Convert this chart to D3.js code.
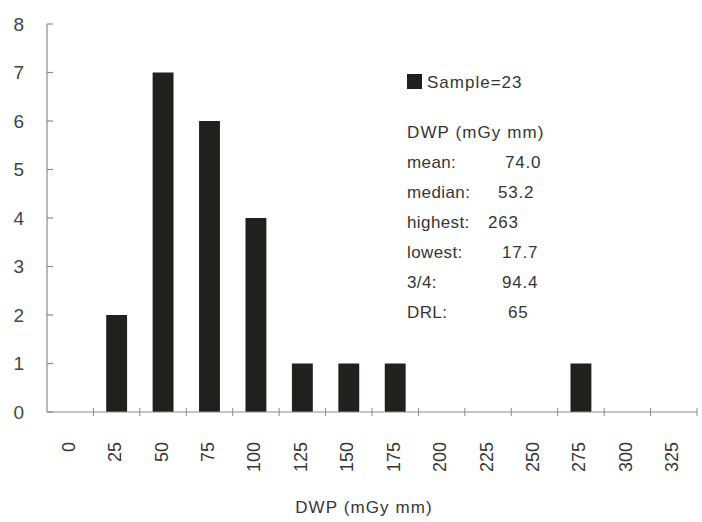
<!DOCTYPE html>
<html>
<head>
<meta charset="utf-8">
<script src="https://cdn.jsdelivr.net/npm/d3@7"></script>
<style>
  html, body { margin: 0; padding: 0; background: #fff; }
  svg { display: block; }
  text { font-family: "Liberation Sans", Arial, sans-serif; fill: #363636; }
  .narrow { font-family: "Liberation Sans Narrow", "Arial Narrow", "Liberation Sans", sans-serif; }
</style>
</head>
<body>
<svg id="chart" width="702" height="522"></svg>
<script>
// DWP histogram bins (mGy mm) and number of samples in each bin
const bins = ["0", "25", "50", "75", "100", "125", "150", "175", "200", "225", "250", "275", "300", "325"];
const counts = [0, 2, 7, 6, 4, 1, 1, 1, 0, 0, 0, 1, 0, 0];
const yTicks = [0, 1, 2, 3, 4, 5, 6, 7, 8];

const legendLabel = "Sample=23";
const statsTitle = "DWP (mGy mm)";
const statNames = ["mean:", "median:", "highest:", "lowest:", "3/4:", "DRL:"];
const statValues = ["74.0", "53.2", "263", "17.7", "94.4", "65"];
const statValueX = [505, 498, 488, 502, 502, 508];
const xTitle = "DWP (mGy mm)";

const svg = d3.select("#chart");
const plotLeft = 47, plotRight = 697, plotTop = 24, plotBottom = 412;

const x = d3.scaleBand().domain(bins).range([plotLeft, plotRight]).paddingInner(0.55).paddingOuter(0.275);
const xb = d3.scaleBand().domain(bins).range([plotLeft, plotRight]);
const y = d3.scaleLinear().domain([0, 8]).range([plotBottom, plotTop]);

const axisColor = "#8c8c8c";

// Y axis: line plus inward ticks
svg.append("line").attr("x1", plotLeft).attr("x2", plotLeft).attr("y1", plotTop).attr("y2", plotBottom)
  .attr("stroke", axisColor).attr("stroke-width", 1.2);
svg.append("g").selectAll("line").data(yTicks).join("line")
  .attr("x1", plotLeft).attr("x2", plotLeft + 6)
  .attr("y1", d => y(d)).attr("y2", d => y(d))
  .attr("stroke", axisColor).attr("stroke-width", 1.2);
svg.append("g").selectAll("text").data(yTicks).join("text")
  .attr("x", 24).attr("y", d => y(d)).attr("dy", "0.36em")
  .attr("text-anchor", "end").attr("font-size", 19)
  .style("fill", "#444")
  .text(d => d);

// Bars
svg.append("g").selectAll("rect").data(bins).join("rect")
  .attr("x", d => x(d)).attr("width", x.bandwidth())
  .attr("y", (d, i) => y(counts[i]))
  .attr("height", (d, i) => y(0) - y(counts[i]))
  .attr("fill", "#1f211d");

// X axis: baseline with crossing ticks at bin boundaries
svg.append("line").attr("x1", plotLeft).attr("x2", plotRight).attr("y1", plotBottom).attr("y2", plotBottom)
  .attr("stroke", axisColor).attr("stroke-width", 1.2);
svg.append("g").selectAll("line").data(bins.slice(1).concat(["end"])).join("line")
  .attr("x1", (d, i) => i < bins.length - 1 ? xb(d) : plotRight)
  .attr("x2", (d, i) => i < bins.length - 1 ? xb(d) : plotRight)
  .attr("y1", plotBottom - 4).attr("y2", plotBottom + 4)
  .attr("stroke", axisColor).attr("stroke-width", 1);

// Rotated bin labels
svg.append("g").selectAll("text").data(bins).join("text")
  .attr("class", "narrow")
  .attr("transform", d => `translate(${xb(d) + xb.bandwidth() / 2 - 2},442) rotate(-90)`)
  .attr("text-anchor", "end").attr("dy", "0.36em")
  .attr("font-size", 18)
  .text(d => d);

// X axis title
svg.append("text").attr("x", 364).attr("y", 513)
  .attr("text-anchor", "middle").attr("font-size", 17).attr("letter-spacing", 1.1)
  .text(xTitle);

// Legend swatch and summary statistics
svg.append("rect").attr("x", 407).attr("y", 74).attr("width", 15).attr("height", 15).attr("fill", "#1f211d");
svg.append("text").attr("x", 427).attr("y", 88).attr("font-size", 17).attr("letter-spacing", 1.0)
  .text(legendLabel);
svg.append("text").attr("x", 407).attr("y", 138).attr("font-size", 17).attr("letter-spacing", 1.1)
  .text(statsTitle);
const rows = svg.append("g");
rows.selectAll("text.name").data(statNames).join("text").attr("class", "name")
  .attr("x", 407).attr("y", (d, i) => 168 + i * 30)
  .attr("font-size", 17).attr("letter-spacing", 0.4)
  .text(d => d);
rows.selectAll("text.val").data(statValues).join("text").attr("class", "val")
  .attr("x", (d, i) => statValueX[i]).attr("y", (d, i) => 168 + i * 30)
  .attr("font-size", 17).attr("letter-spacing", 0.8)
  .text(d => d);
</script>
</body>
</html>
